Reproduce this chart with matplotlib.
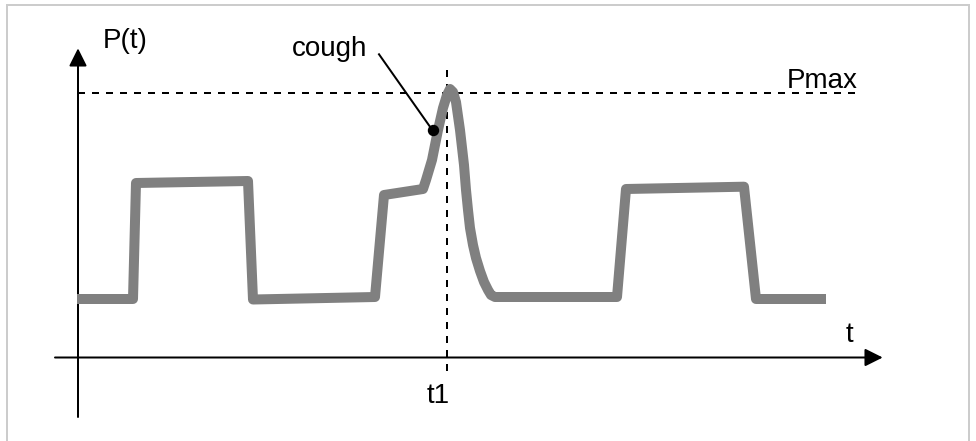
import matplotlib
matplotlib.use("Agg")
import matplotlib.pyplot as plt
from matplotlib.lines import Line2D

plt.rcParams['font.family'] = ['Liberation Sans', 'DejaVu Sans']

# ---- data (t, P) of the schematic pressure curve ----
t_values = [-0.1, 5.5, 5.8, 17.0, 17.5, 29.7, 30.6, 34.5, 34.8, 35.4, 36.0, 36.5,
            36.9, 37.2, 37.5, 37.8, 38.2, 38.6, 38.8, 39.0, 39.2, 39.5, 39.8, 40.2,
            40.6, 41.0, 41.3, 41.7,
            53.9, 54.8, 66.6, 67.8, 74.8]
p_values = [5.85, 5.85, 17.45, 17.65, 5.8, 6.05, 16.25, 16.85, 17.75, 19.75, 22.75, 24.95,
            26.25, 26.85, 26.55, 25.55, 22.75, 19.25, 16.75, 14.75, 12.95, 11.25, 9.95, 8.65,
            7.55, 6.75, 6.25, 6.05,
            6.05, 16.85, 17.08, 5.85, 5.85]
p_max = 26.42
t1 = 36.93
cough_point = (35.45, 22.72)
cough_text_pos = (30.1, 30.32)
labels = {"P(t)": (2.5, 30.95), "cough": (21.37, 30.1), "Pmax": (70.9, 26.95),
          "t": (77.1, 1.55), "t1": (34.87, -4.58)}

W, H = 976, 441
fig = plt.figure(figsize=(W / 100, H / 100), dpi=100)
ax = fig.add_axes([0, 0, 1, 1])
ax.set_xlim(-7.8, 89.8)
ax.set_ylim(-8.35, 35.75)
ax.axis('off')

px = 0.72  # points per pixel

# border
for xs, ys in [([7 / W, 7 / W], [0, 1 - 5 / H]),
               ([7 / W, 969 / W], [1 - 5 / H, 1 - 5 / H]),
               ([969 / W, 969 / W], [0, 1 - 5 / H])]:
    fig.add_artist(Line2D(xs, ys, color='#cccccc', lw=2 * px, transform=fig.transFigure))

# axes arrows
astyle = '-|>,head_length=1.08,head_width=0.54'
ax.annotate('', xy=(0, 30.92), xytext=(0, -5.95),
            arrowprops=dict(arrowstyle=astyle, mutation_scale=10, color='black',
                            lw=2 * px, shrinkA=0, shrinkB=0))
ax.annotate('', xy=(80.47, 0), xytext=(-2.3, 0),
            arrowprops=dict(arrowstyle=astyle, mutation_scale=10, color='black',
                            lw=2 * px, shrinkA=0, shrinkB=0))

# Pmax and t1 dashed lines
ax.plot([0, 77.9], [p_max, p_max], color='black', lw=2 * px, dashes=(3.5, 3.5))
ax.plot([t1, t1], [28.75, -1.45], color='black', lw=2 * px, dashes=(3.5, 3.5))

# curve
ax.plot(t_values, p_values, color='#808080', lw=10 * px,
        solid_joinstyle='round', solid_capstyle='butt', zorder=3)

# cough pointer
ax.plot([cough_text_pos[0], cough_point[0]], [cough_text_pos[1], cough_point[1]],
        color='black', lw=2 * px, zorder=4)
ax.plot([cough_point[0]], [cough_point[1]], 'o', color='black', ms=10 * px, zorder=5)

for txt, (x, y) in labels.items():
    ax.text(x, y, txt, fontsize=20, ha='center' if txt == 't' else 'left',
            va='baseline', color='black')

fig.savefig('out.png', dpi=100)
